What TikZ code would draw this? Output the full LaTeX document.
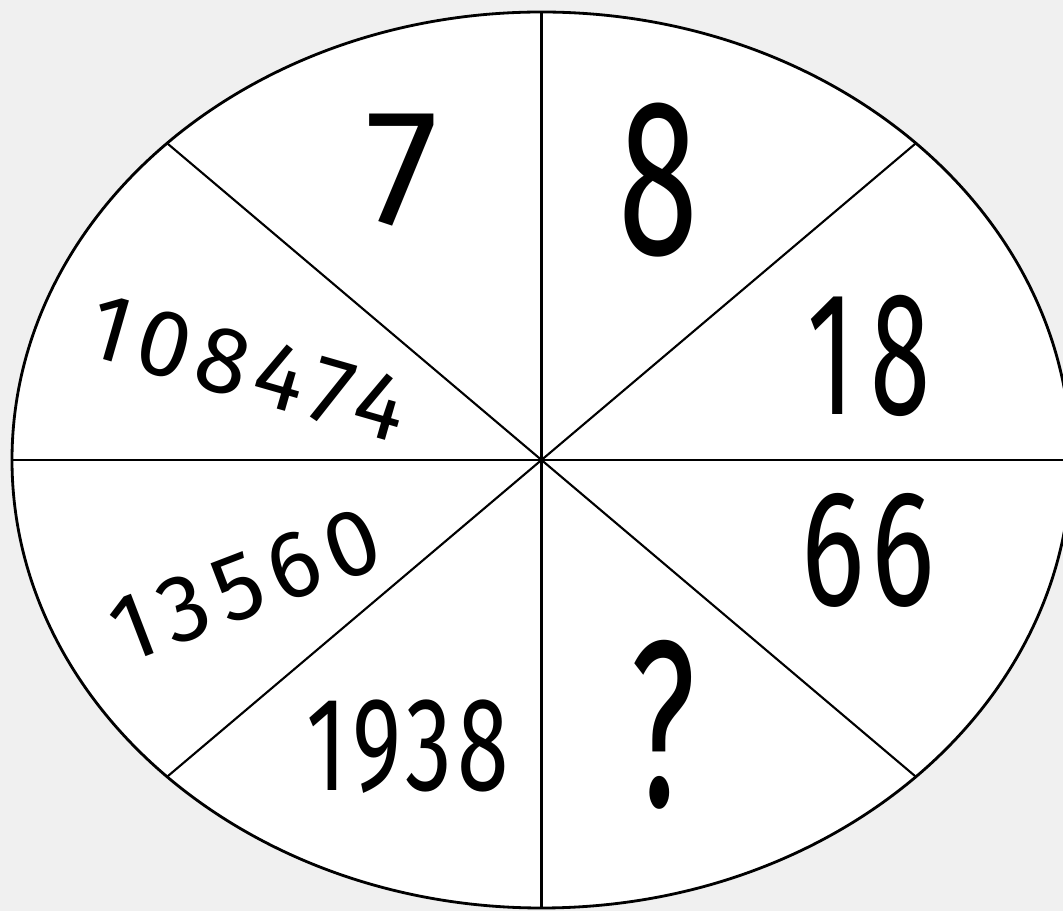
\documentclass[tikz,border=0pt]{standalone}
\usepackage{fontspec}
\newfontfamily\handfont{Fira Sans}
\usetikzlibrary{calc}
\definecolor{pagegrey}{HTML}{F0F0F0}

\begin{document}
\begin{tikzpicture}[
x=0.02cm, y=-0.02cm,
rim/.style={draw=black, line width=1.6pt, fill=white},
spoke/.style={draw=black, line width=1.2pt},
entry/.style={inner sep=0pt, font=\handfont\fontsize{#1}{#1}\selectfont},
spaced/.style={execute at begin node={\addfontfeature{LetterSpace=#1}}}
]
\fill[pagegrey] (0,0) rectangle (1063,911);
\useasboundingbox (0,0) rectangle (1063,911);
\clip (0,0) rectangle (1063,911);

% wheel and its eight spokes
\coordinate (hub) at (541.5,460);
\path[rim] (hub) ellipse [x radius=529.5, y radius=448];
\foreach \a in {0,45,...,315} {
  \coordinate (rim\a) at ($(hub)+(\a:529.5 and 448)$);
  \draw[spoke] (hub) -- (rim\a);
}

% numbers in the sectors
\node[entry=94] (seven) at (402,170) {7};
\node[entry=127, xscale=0.65] (eight) at (658,180) {8};
\node[entry=100, xscale=0.62, spaced=14] (eighteen) at (869,356) {18};
\node[entry=94, xscale=0.72, spaced=6] (sixtysix) at (868,550) {66};
\node[entry=135, xscale=0.6] (unknown) at (663,725) {?};
\node[entry=76, xscale=0.7, spaced=6] (last) at (408,747) {1938};
\node[entry=54, rotate=21, spaced=11] (middle) at (245,585) {13560};
\node[entry=54, rotate=-16, spaced=9] (longest) at (248,368) {108474};
\end{tikzpicture}
\end{document}
